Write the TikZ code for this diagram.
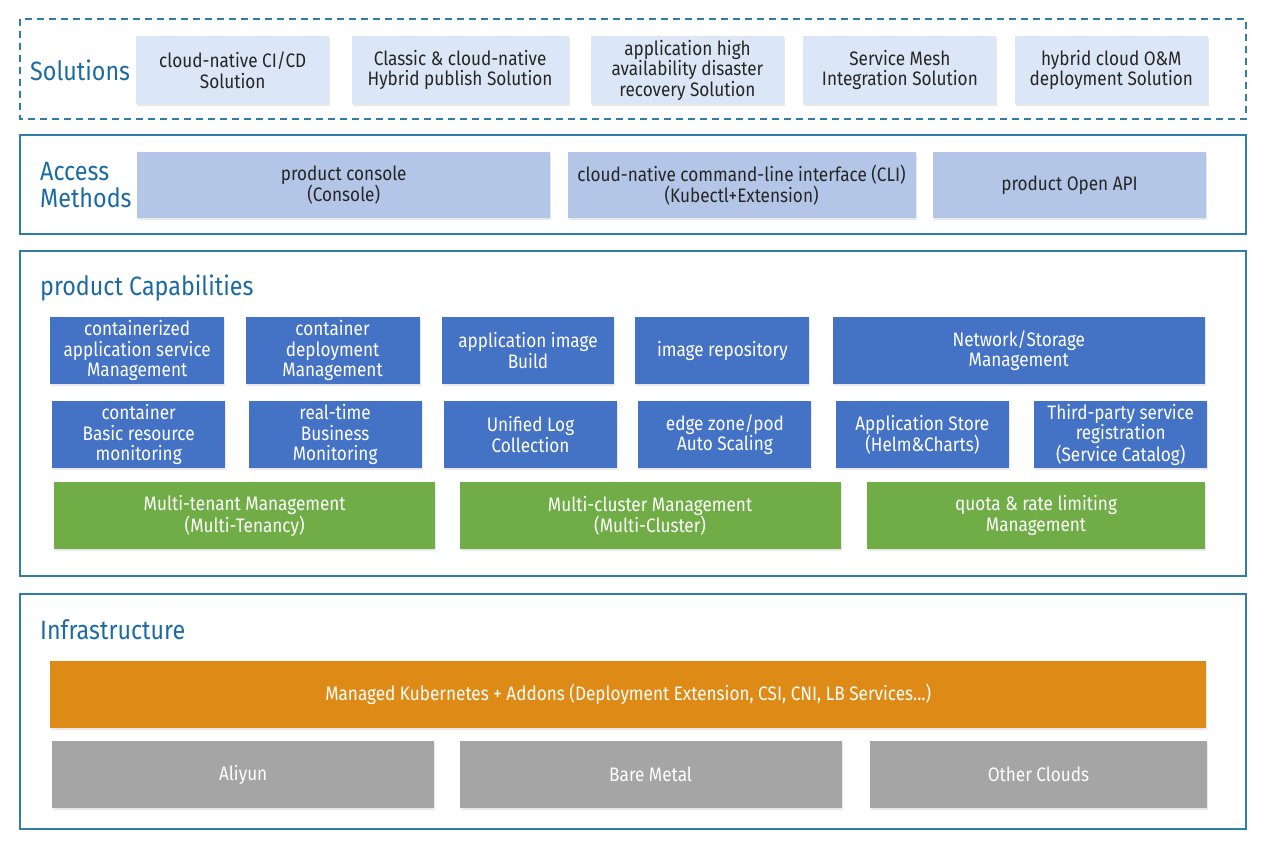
\documentclass[tikz,border=0pt]{standalone}
\usepackage{fontspec}
\setmainfont{Fira Sans}[FakeStretch=0.88]
\usetikzlibrary{positioning,shadows}
\usepackage{xcolor}
\definecolor{FrameBlue}{RGB}{46,126,166}
\definecolor{TitleBlue}{RGB}{28,106,164}
\definecolor{SolFill}{RGB}{219,231,246}
\definecolor{AccFill}{RGB}{180,198,231}
\definecolor{CapBlue}{RGB}{68,114,196}
\definecolor{MgmtGreen}{RGB}{112,173,71}
\definecolor{KubeOrange}{RGB}{222,138,22}
\definecolor{InfraGray}{RGB}{165,165,165}

\begin{document}
\begin{tikzpicture}[
x=1pt,y=-1pt,
node distance=22pt,
box/.style={
    rectangle,
    inner sep=0pt,
    minimum height=67pt,
    align=center,
    font=\fontsize{19.5}{20.5}\selectfont,
    drop shadow={shadow xshift=1pt,shadow yshift=-1.5pt,opacity=0.18}
},
solbox/.style={box,fill=SolFill,text=black!85,minimum width=193pt,minimum height=68pt},
accbox/.style={box,fill=AccFill,text=black!85},
capbox/.style={box,fill=CapBlue,text=white,minimum width=173pt},
mgmtbox/.style={box,fill=MgmtGreen,text=white},
kubebox/.style={box,fill=KubeOrange,text=white},
infrabox/.style={box,fill=InfraGray,text=white},
frame/.style={draw=FrameBlue,line width=1.4pt},
title/.style={text=TitleBlue,anchor=west,inner sep=0pt,align=left,font=\fontsize{26.5}{27}\selectfont}
]
\useasboundingbox (0,0) rectangle (1264,848);

% layer frames
\draw[frame,dash pattern=on 7pt off 5pt] (20,19) rectangle (1246,119);
\draw[frame] (20,135) rectangle (1246,234);
\draw[frame] (20,251) rectangle (1246,576);
\draw[frame] (20,594) rectangle (1246,829);

% Solutions
\node[title] (soltitle) at (30,70) {Solutions};
\node[solbox,anchor=north west] (s1) at (136,36) {cloud-native CI/CD\\Solution};
\node[solbox,minimum width=217pt,right=of s1] (s2) {Classic \& cloud-native\\Hybrid publish Solution};
\node[solbox,right=of s2] (s3) {application high\\availability disaster\\recovery Solution};
\node[solbox,right=19pt of s3] (s4) {Service Mesh\\Integration Solution};
\node[solbox,right=18pt of s4] (s5) {hybrid cloud O\&M\\deployment Solution};

% Access Methods
\node[title] (acctitle) at (40,185) {Access\\Methods};
\node[accbox,minimum width=413pt,minimum height=66pt,anchor=north west] (a1) at (137,152) {product console\\(Console)};
\node[accbox,minimum width=348pt,minimum height=66pt,right=17pt of a1] (a2) {cloud-native command-line interface (CLI)\\(Kubectl+Extension)};
\node[accbox,minimum width=273pt,minimum height=66pt,right=17pt of a2] (a3) {product Open API};

% product Capabilities
\node[title] (captitle) at (40,288) {product Capabilities};
\node[capbox,minimum width=174pt,anchor=north west] (r1) at (50,317) {containerized\\application service\\Management};
\node[capbox,minimum width=174pt,right=21pt of r1] (r2) {container\\deployment\\Management};
\node[capbox,minimum width=172pt,right=of r2] (r3) {application image\\Build};
\node[capbox,minimum width=174pt,right=21pt of r3] (r4) {image repository};
\node[capbox,minimum width=372pt,right=23pt of r4] (r5) {Network/Storage\\Management};

\node[capbox,anchor=north west] (c1) at (52,401) {container\\Basic resource\\monitoring};
\node[capbox,right=23pt of c1] (c2) {real-time\\Business\\Monitoring};
\node[capbox,right=of c2] (c3) {Unified Log\\Collection};
\node[capbox,right=21pt of c3] (c4) {edge zone/pod\\Auto Scaling};
\node[capbox,right=24pt of c4] (c5) {Application Store\\(Helm\&Charts)};
\node[capbox,right=25pt of c5] (c6) {Third-party service\\registration\\(Service Catalog)};

\node[mgmtbox,minimum width=381pt,anchor=north west] (g1) at (54,482) {Multi-tenant Management\\(Multi-Tenancy)};
\node[mgmtbox,minimum width=381pt,right=24pt of g1] (g2) {Multi-cluster Management\\(Multi-Cluster)};
\node[mgmtbox,minimum width=338pt,right=26pt of g2] (g3) {quota \& rate limiting\\Management};

% Infrastructure
\node[title] (infratitle) at (40,630) {Infrastructure};
\node[kubebox,minimum width=1156pt,anchor=north west] (k8s) at (50,661) {Managed Kubernetes + Addons (Deployment Extension, CSI, CNI, LB Services...)};
\node[infrabox,minimum width=382pt,anchor=north west] (d1) at (52,741) {Aliyun};
\node[infrabox,minimum width=382pt,right=25pt of d1] (d2) {Bare Metal};
\node[infrabox,minimum width=337pt,right=28pt of d2] (d3) {Other Clouds};

\end{tikzpicture}
\end{document}
